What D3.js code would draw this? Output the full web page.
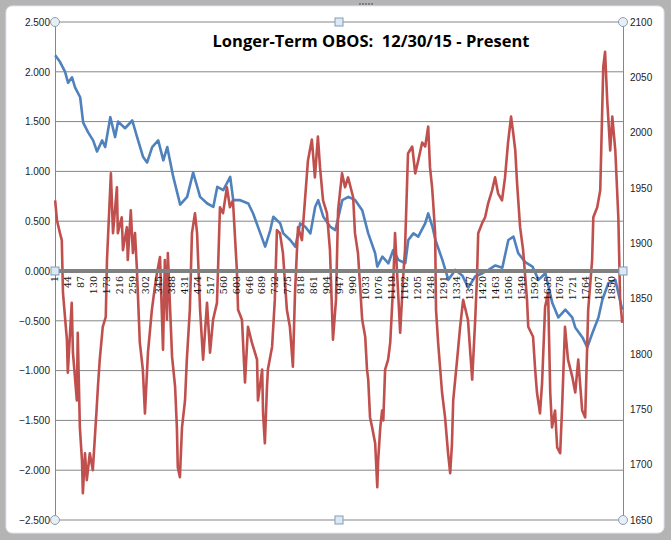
<!DOCTYPE html>
<html><head><meta charset="utf-8">
<script src="https://cdn.jsdelivr.net/npm/d3@7"></script>
<style>body{margin:0;background:#fff}</style></head>
<body><svg id="c" width="671" height="540"></svg>
<script>
const title = "Longer-Term OBOS:  12/30/15 - Present";
const nPoints = 1885;
const xTickLabels = [1,44,87,130,173,216,259,302,345,388,431,474,517,560,603,646,689,732,775,818,861,904,947,990,1033,1076,1119,1162,1205,1248,1291,1334,1377,1420,1463,1506,1549,1592,1635,1678,1721,1764,1807,1850];
const leftTicks = [2.5,2,1.5,1,0.5,0,-0.5,-1,-1.5,-2,-2.5];
const rightTicks = [2100,2050,2000,1950,1900,1850,1800,1750,1700,1650];

// OBOS oscillator (left axis): day index, value
const obosIdx = [1,7,17,23,27,40,43,56,60,73,76,83,90,93,100,106,116,126,139,143,149,159,169,173,186,193,206,209,222,226,239,242,252,259,266,272,282,292,299,309,322,332,339,349,359,365,372,375,389,399,405,408,415,422,432,438,448,455,465,472,482,492,505,515,525,538,548,558,571,581,591,604,608,621,631,641,654,671,674,688,691,697,704,707,721,730,737,747,757,770,780,790,797,807,820,830,840,853,863,873,880,890,903,913,923,933,940,953,963,973,990,996,1006,1020,1030,1036,1040,1046,1053,1063,1070,1073,1080,1086,1090,1096,1106,1113,1122,1129,1146,1156,1162,1172,1186,1196,1206,1219,1229,1239,1245,1252,1255,1262,1265,1272,1285,1295,1305,1312,1318,1322,1335,1345,1355,1371,1385,1395,1401,1405,1418,1428,1438,1451,1461,1471,1484,1494,1504,1514,1521,1528,1534,1544,1554,1567,1571,1587,1594,1600,1610,1617,1627,1637,1644,1650,1660,1667,1677,1683,1693,1703,1717,1727,1737,1750,1760,1770,1783,1787,1800,1810,1820,1826,1833,1843,1850,1860,1870,1876,1883];
const obosVal = [0.71,0.51,0.38,0.31,-0.22,-0.69,-1.02,-0.32,-0.82,-1.30,-0.62,-1.57,-1.90,-2.23,-1.83,-2.10,-1.83,-2.00,-1.37,-1.16,-0.89,-0.56,-0.46,0.11,0.98,0.38,0.84,0.38,0.54,0.21,0.44,0.11,0.61,0.18,0.38,0.04,-0.72,-0.99,-1.43,-0.82,-0.39,-0.16,-0.02,0.14,-0.79,0.11,-0.49,0.18,-0.86,-1.16,-1.57,-1.97,-2.07,-1.57,-1.30,-0.89,-0.39,0.38,0.58,0.38,-0.39,-0.89,-0.32,-0.82,-0.49,-0.32,0.64,0.58,0.84,0.64,0.71,0.01,-0.39,-0.49,-1.12,-0.56,-0.72,-0.89,-1.30,-0.99,-1.43,-1.73,-1.16,-0.99,-0.76,-0.29,0.41,0.38,0.18,-0.39,-0.56,-0.96,-0.22,0.44,0.31,0.71,1.11,1.32,0.94,1.35,1.04,0.71,0.58,0.21,-0.69,-0.29,0.61,0.98,0.84,0.94,0.74,0.38,0.18,-0.49,-0.66,-0.99,-1.09,-1.47,-1.57,-1.73,-2.17,-1.90,-1.57,-1.40,-1.50,-0.99,-0.89,-0.72,-0.19,0.38,-0.62,-0.06,0.21,1.18,1.25,0.98,1.11,1.29,1.25,1.45,1.04,0.84,0.71,0.38,-0.39,-0.72,-1.22,-1.47,-1.83,-2.03,-1.73,-1.30,-0.89,-0.56,-0.29,-0.49,-1.09,-0.49,-0.06,0.38,0.48,0.54,0.68,0.81,0.94,0.78,0.71,0.94,1.29,1.55,1.39,1.21,0.88,0.44,0.21,-0.29,-0.56,-0.66,-0.99,-1.22,-1.43,-1.12,-0.36,-0.22,-1.22,-1.57,-1.40,-1.77,-1.83,-1.40,-0.56,-0.89,-1.06,-1.22,-0.89,-1.40,-1.47,-0.39,0.11,0.54,0.64,0.81,2.05,2.20,1.72,1.21,1.55,1.21,0.54,-0.29,-0.52];

// Index price (right axis): day index, value
const priceIdx = [1,17,34,44,57,67,84,94,111,127,140,157,167,184,200,210,233,257,273,293,306,323,343,360,373,393,416,439,459,482,506,526,539,559,582,592,615,642,658,682,698,715,725,748,758,781,798,814,831,848,864,874,891,914,931,954,974,997,1020,1040,1063,1070,1087,1107,1123,1140,1163,1173,1190,1206,1229,1239,1253,1263,1286,1306,1329,1352,1372,1395,1419,1439,1462,1485,1505,1522,1538,1561,1585,1605,1628,1651,1671,1694,1717,1727,1751,1767,1784,1804,1817,1837,1860,1883];
const priceVal = [2070,2064,2055,2045,2050,2041,2032,2009,2000,1993,1983,1993,1987,2014,1996,2010,2004,2011,1996,1978,1973,1987,1993,1975,1987,1960,1935,1942,1964,1942,1936,1933,1951,1948,1960,1939,1939,1936,1927,1909,1897,1912,1924,1918,1909,1903,1897,1918,1915,1909,1933,1939,1924,1915,1912,1939,1942,1939,1930,1909,1891,1879,1888,1882,1894,1885,1882,1903,1909,1906,1918,1927,1915,1903,1885,1867,1876,1871,1860,1870,1873,1876,1880,1878,1903,1906,1891,1883,1879,1867,1873,1846,1833,1840,1833,1824,1815,1806,1819,1833,1849,1864,1867,1840];

const svg = d3.select("#c");
const L=55, R=623, T=22, B=520;

svg.append("rect").attr("x",0).attr("y",0).attr("width",671).attr("height",540).attr("fill","#b4b4b4");
svg.append("rect").attr("x",6).attr("y",6).attr("width",658).attr("height",527).attr("rx",6).attr("fill","#fff").attr("stroke","#dfe6ee");
svg.append("g").selectAll("circle").data([0,1,2,3,4]).join("circle")
  .attr("cx",d=>360+d*3).attr("cy",4).attr("r",0.9).attr("fill","#666");

const x = d3.scaleLinear().domain([0.5, nPoints+0.5]).range([L,R]);
const yL = d3.scaleLinear().domain([-2.5,2.5]).range([B,T]);
const yR = d3.scaleLinear().domain([1650,2100]).range([B,T]);

svg.append("g").selectAll("line").data(leftTicks.filter(d=>d!==0)).join("line")
  .attr("x1",L).attr("x2",R).attr("y1",d=>yL(d)).attr("y2",d=>yL(d))
  .attr("stroke","#868686").attr("stroke-width",1);

const font = "'Liberation Sans', Arial, sans-serif";
const gl = svg.append("g").attr("transform",`translate(${L},0)`)
  .call(d3.axisLeft(yL).tickValues(leftTicks).tickFormat(d3.format(".3f")).tickSize(0).tickPadding(5));
const gr = svg.append("g").attr("transform",`translate(${R},0)`)
  .call(d3.axisRight(yR).tickValues(rightTicks).tickFormat(d3.format("d")).tickSize(0).tickPadding(7));
[gl,gr].forEach(g=>{g.select(".domain").attr("stroke","#868686");
  g.selectAll("text").attr("font-family",font).attr("font-size",10).attr("fill","#222");});

const redLine = d3.line().x((d,i)=>x(obosIdx[i])).y(d=>yL(d));
const blueLine = d3.line().x((d,i)=>x(priceIdx[i])).y(d=>yR(d));
svg.append("path").datum(priceVal).attr("d",blueLine).attr("fill","none").attr("stroke","#4F81BD").attr("stroke-width",2.6).attr("stroke-linejoin","round");
svg.append("path").datum(obosVal).attr("d",redLine).attr("fill","none").attr("stroke","#C0504D").attr("stroke-width",2.6).attr("stroke-linejoin","round");

svg.append("line").attr("x1",L).attr("x2",R).attr("y1",yL(0)).attr("y2",yL(0)).attr("stroke","#808080").attr("stroke-width",4);
const gx = svg.append("g").attr("transform",`translate(0,${yL(0)+3})`);
gx.selectAll("text").data(xTickLabels).join("text")
  .attr("transform",d=>`translate(${x(d)+3},2) rotate(-90)`)
  .attr("text-anchor","end").attr("font-family","'DejaVu Serif', serif").attr("font-size",9.5).attr("fill","#111")
  .text(d=>d);

svg.append("text").attr("x",371).attr("y",47).attr("text-anchor","middle")
  .style("white-space","pre")
  .attr("font-family","'Open Sans', sans-serif").attr("font-weight","bold").attr("font-size",16.5)
  .attr("fill","#000").text(title);

[[L,T],[R,T],[L,B],[R,B]].forEach(([a,b])=>svg.append("circle").attr("cx",a).attr("cy",b).attr("r",4.5)
  .attr("fill","#e8eef4").attr("stroke","#8aa0b4"));
[[339,T],[339,B],[L,yL(0)],[R,yL(0)]].forEach(([a,b])=>svg.append("rect").attr("x",a-4).attr("y",b-4).attr("width",8).attr("height",8)
  .attr("fill","#dce8f4").attr("stroke","#7f9db9"));
</script></body></html>
